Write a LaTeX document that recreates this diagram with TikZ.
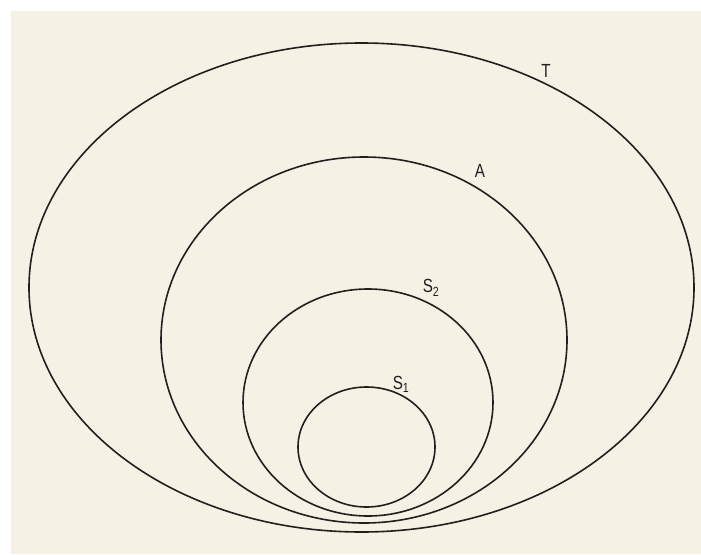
\documentclass[tikz,border=0pt]{standalone}
\usepackage{fontspec}
\setmainfont{Liberation Sans}
\definecolor{bg}{HTML}{F5F2E5}
\definecolor{ink}{HTML}{231F20}
\begin{document}
\begin{tikzpicture}[x=1pt,y=-1pt,
  ring/.style={draw=ink,line width=1.6pt},
  lab/.style={inner sep=0pt,text=ink,font=\fontsize{19}{19}\selectfont,xscale=0.8}]
\useasboundingbox (0,0) rectangle (701,554);
\fill[bg] (11,11) rectangle (701,554);
\draw[ring] (361.5,287.5) ellipse [x radius=332.5, y radius=244.5];
\draw[ring] (364,340) ellipse [x radius=203, y radius=183];
\draw[ring] (368,402.5) ellipse [x radius=125, y radius=113.5];
\draw[ring] (366.5,447) ellipse [x radius=68.5, y radius=60];
\node[lab] (T) at (546,71) {T};
\node[lab] (A) at (480,171) {A};
\node[lab] (S2) at (431,288) {S\textsubscript{2}};
\node[lab] (S1) at (401,384) {S\textsubscript{1}};
\end{tikzpicture}
\end{document}
